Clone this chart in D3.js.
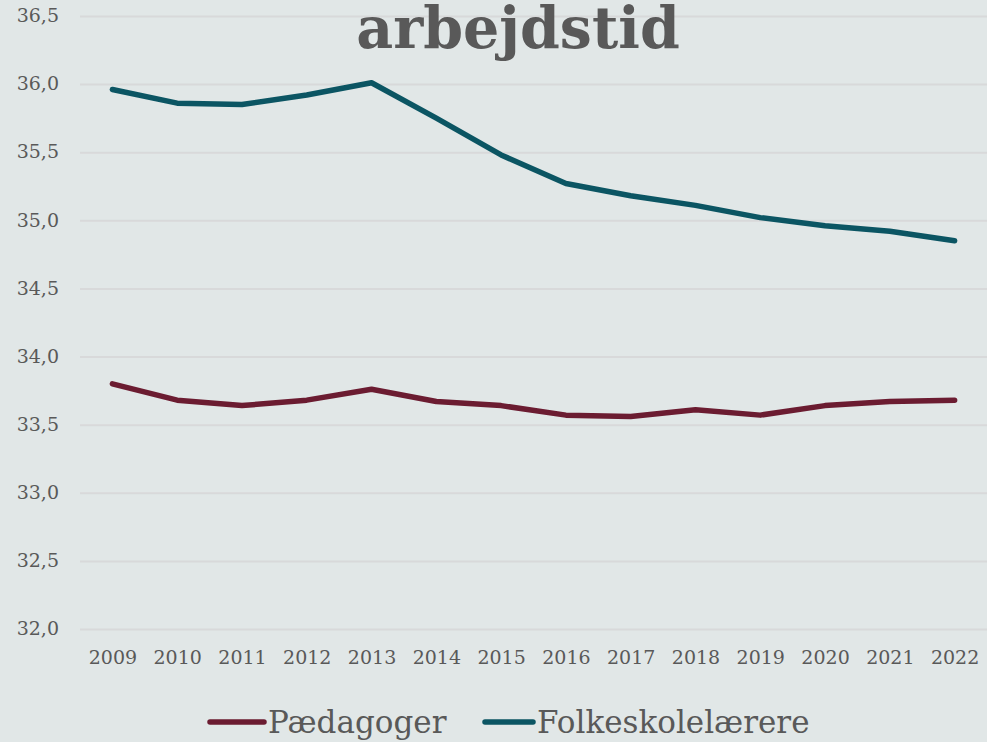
<!DOCTYPE html>
<html>
<head>
<meta charset="utf-8">
<script src="https://cdn.jsdelivr.net/npm/d3@7"></script>
<style>
	html, body { margin: 0; padding: 0; background: #e1e7e7; }
	#chart-area { width: 987px; height: 742px; }
	text { font-family: 'DejaVu Serif', Georgia, serif; fill: #595959; }
</style>
</head>
<body>
<div id="chart-area"></div>
<script>
const years = ['2009', '2010', '2011', '2012', '2013', '2014', '2015', '2016', '2017', '2018', '2019', '2020', '2021', '2022'];
const paedagoger = [33.80, 33.68, 33.64, 33.68, 33.76, 33.67, 33.64, 33.57, 33.56, 33.61, 33.57, 33.64, 33.67, 33.68];
const folkeskolelaerere = [35.96, 35.86, 35.85, 35.92, 36.01, 35.75, 35.48, 35.27, 35.18, 35.11, 35.02, 34.96, 34.92, 34.85];
const yTicks = [32.0, 32.5, 33.0, 33.5, 34.0, 34.5, 35.0, 35.5, 36.0, 36.5];
const seriesNames = ['Pædagoger', 'Folkeskolelærere'];
const seriesColors = ['#6b1c31', '#0b5563'];
const titleText = 'arbejdstid';

const margin = { top: 16, right: 0, bottom: 113, left: 80 };
const parentWidth = 987;
const parentHeight = 742;
const width = parentWidth - margin.left - margin.right;
const height = parentHeight - margin.top - margin.bottom;

const svg = d3.select('#chart-area')
	.append('svg')
	.attr('width', parentWidth)
	.attr('height', parentHeight);

const g = svg.append('g')
	.attr('transform', `translate(${margin.left}, ${margin.top})`);

// Scales
const x = d3.scalePoint()
	.domain(years)
	.range([0, width])
	.padding(0.5);

const y = d3.scaleLinear()
	.domain([32, 36.5])
	.range([height, 0]);

const fmt = (d) => d3.format('.1f')(d).replace('.', ',');

// Grid lines
const grid = g.append('g')
	.attr('class', 'grid')
	.call(d3.axisLeft(y).tickValues(yTicks).tickSize(-width).tickFormat(''));
grid.select('.domain').remove();
grid.selectAll('line')
	.attr('stroke', '#d8d9da')
	.attr('stroke-width', 2);

// Y axis
const leftAxis = g.append('g')
	.attr('class', 'axis-left')
	.call(d3.axisLeft(y).tickValues(yTicks).tickSize(0).tickPadding(21).tickFormat(fmt));
leftAxis.select('.domain').remove();
leftAxis.selectAll('text')
	.style('font-size', '19px')
	.attr('dy', '0.3em')
	.attr('fill', '#595959');

// X axis
const bottomAxis = g.append('g')
	.attr('class', 'axis-bottom')
	.attr('transform', `translate(0, ${height})`)
	.call(d3.axisBottom(x).tickSize(0).tickPadding(22));
bottomAxis.select('.domain').remove();
bottomAxis.selectAll('text')
	.style('font-size', '19px')
	.attr('fill', '#595959');

// Lines
const line = d3.line()
	.x((d, i) => x(years[i]))
	.y((d) => y(d));

[paedagoger, folkeskolelaerere].forEach((s, i) => {
	g.append('path')
		.datum(s)
		.attr('fill', 'none')
		.attr('stroke', seriesColors[i])
		.attr('stroke-width', 5.5)
		.attr('stroke-linejoin', 'round')
		.attr('stroke-linecap', 'round')
		.attr('d', line);
});

// Title
svg.append('text')
	.attr('x', 518)
	.attr('y', 48)
	.attr('text-anchor', 'middle')
	.style('font-size', '57px')
	.style('font-weight', 'bold')
	.text(titleText);

// Legend
const legendPos = [{ lx: 210, tx: 268 }, { lx: 485, tx: 537 }];
const legend = svg.append('g').attr('transform', 'translate(0, 722)');
seriesNames.forEach((name, i) => {
	legend.append('line')
		.attr('x1', legendPos[i].lx)
		.attr('x2', legendPos[i].tx - 4)
		.attr('stroke', seriesColors[i])
		.attr('stroke-width', 5.5)
		.attr('stroke-linecap', 'round');
	legend.append('text')
		.attr('x', legendPos[i].tx)
		.attr('y', 11)
		.style('font-size', '31px')
		.text(name);
});
</script>
</body>
</html>
